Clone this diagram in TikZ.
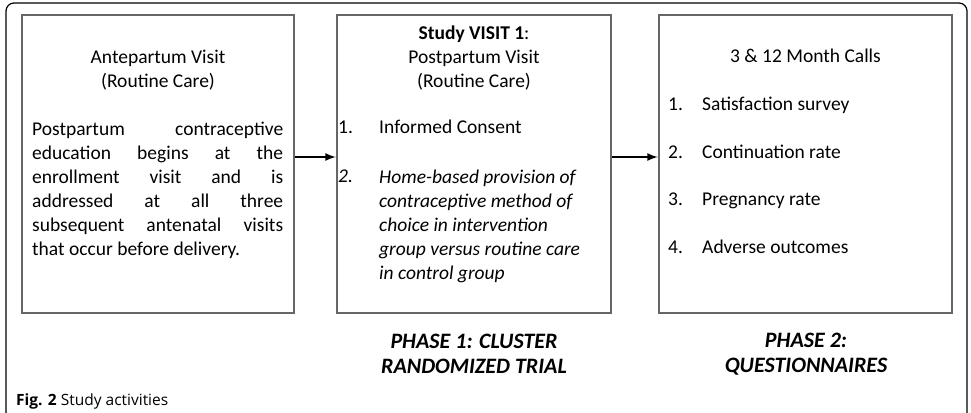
\documentclass[tikz,border=0pt]{standalone}
\usepackage{fontspec}
\setmainfont{Carlito}
\newfontfamily\capfont{Open Sans}
\usepackage{tikz}
\tikzset{box/.style={draw=black!60, line width=1.5pt, minimum height=298pt, inner sep=0pt},
  flow/.style={line width=2.5pt, -latex, shorten >=0.5pt},
  txt/.style={inner sep=0pt, font=\fontsize{19.5}{24}\selectfont},
  phase/.style={inner sep=0pt, align=center, font=\fontsize{22}{25}\selectfont\bfseries\itshape}}

\begin{document}
\begin{tikzpicture}[x=1pt, y=-1pt]
  \useasboundingbox (0, 0) rectangle (971, 412);
  \draw[line width=1.2pt, rounded corners=8pt] (6, 414) -- (6, 3) -- (967, 3) -- (967, 414);

  \node[box, minimum width=272pt] (ante) at (158, 164) {};
  \node[box, minimum width=274pt] (visit) at (474, 164) {};
  \node[box, minimum width=293pt] (calls) at (805.5, 164) {};

  \draw[flow] ([yshift=7pt]ante.east) -- ([yshift=7pt]visit.west);
  \draw[flow] ([yshift=7pt]visit.east) -- ([yshift=7pt]calls.west);

  \node[txt, align=center] (antetitle) at (158, 70) {Antepartum Visit\\(Routine Care)};
  \node[txt, align=justify, text width=251pt, anchor=west] (antebody) at (32, 190)
    {Postpartum contraceptive\linebreak education begins at the\linebreak enrollment visit and is\linebreak addressed at all three\linebreak subsequent antenatal visits\linebreak that occur before delivery.};

  \node[txt, align=center] (visittitle) at (474, 58)
    {\textbf{Study VISIT 1}:\\Postpartum Visit\\(Routine Care)};
  \node[txt, anchor=mid west] (num1) at (338, 131) {1.};
  \node[txt, anchor=mid west] (item1) at (379, 131) {Informed Consent};
  \node[txt, anchor=mid west] (num2) at (338, 180) {\itshape 2.};
  \node[txt, align=left, anchor=west, font=\fontsize{19.5}{24}\selectfont\itshape] (item2) at (379, 226)
    {Home-based provision of\\contraceptive method of\\choice in intervention\\group versus routine care\\in control group};

  \node[txt, anchor=mid] (callstitle) at (805.5, 60) {3 \& 12 Month Calls};
  \node[txt, anchor=mid west] (c1) at (668, 108) {1.};
  \node[txt, anchor=mid west] at (702, 108) {Satisfaction survey};
  \node[txt, anchor=mid west] (c2) at (668, 156) {2.};
  \node[txt, anchor=mid west] at (702, 156) {Continuation rate};
  \node[txt, anchor=mid west] (c3) at (668, 203) {3.};
  \node[txt, anchor=mid west] at (702, 203) {Pregnancy rate};
  \node[txt, anchor=mid west] (c4) at (668, 251) {4.};
  \node[txt, anchor=mid west] at (702, 251) {Adverse outcomes};

  \node[phase] (phase1) at (474, 354) {PHASE 1: CLUSTER\\RANDOMIZED TRIAL};
  \node[phase] (phase2) at (806, 354) {PHASE 2:\\QUESTIONNAIRES};

  \node[inner sep=0pt, anchor=base west, font=\capfont\fontsize{15.5}{18}\selectfont] (caption) at (16, 405)
    {\textbf{Fig. 2} Study activities};
\end{tikzpicture}
\end{document}
